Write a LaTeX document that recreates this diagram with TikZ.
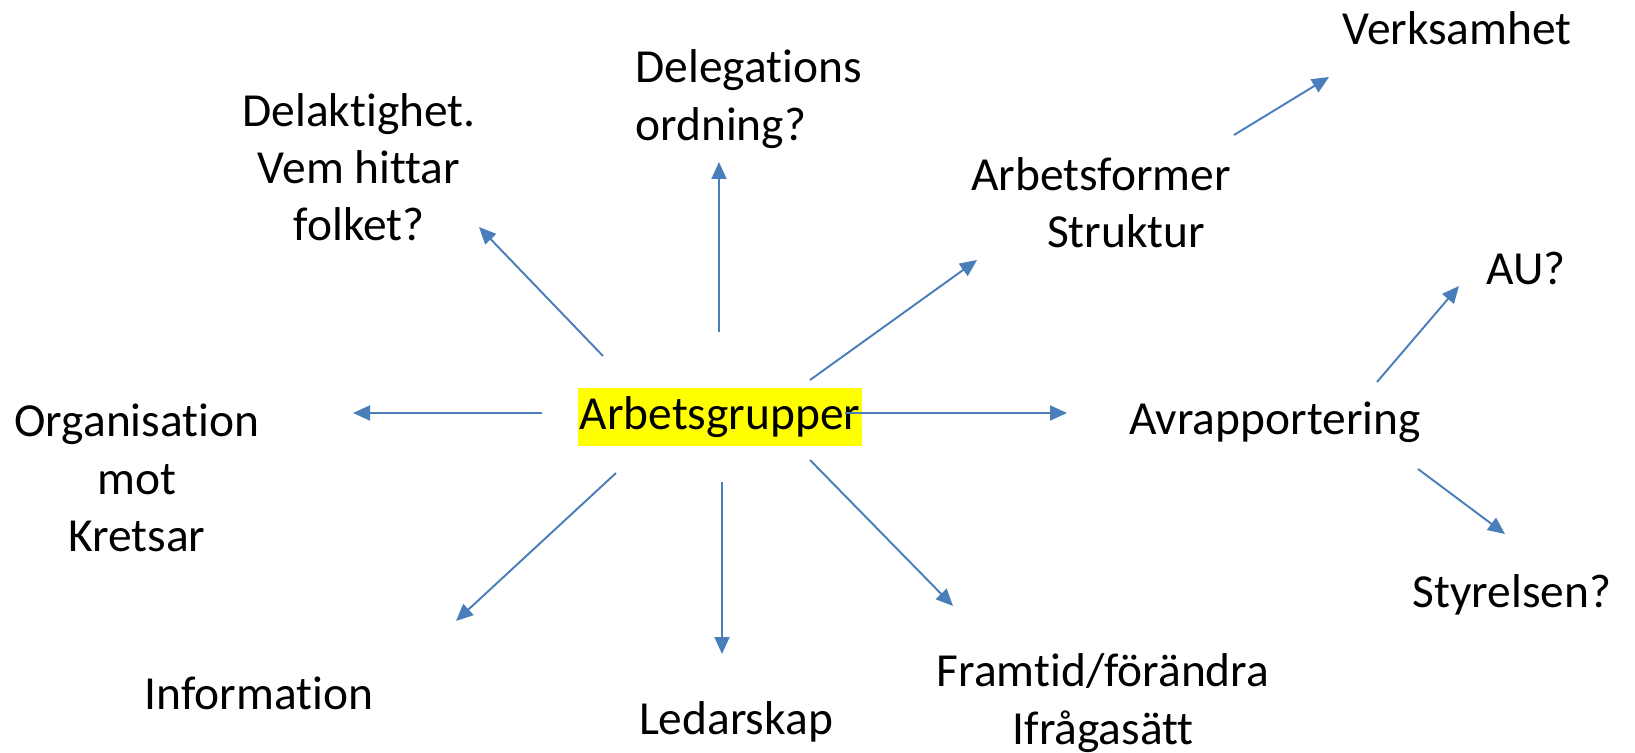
\documentclass[tikz,border=0pt]{standalone}
\usepackage{fontspec}
\setmainfont[Ligatures={NoCommon}]{Carlito}
\usetikzlibrary{arrows.meta}
\definecolor{arrowblue}{RGB}{74,126,187}
\definecolor{hilite}{RGB}{255,255,0}

\begin{document}
\begin{tikzpicture}[x=0.02cm,y=-0.02cm,>={Triangle[length=0.34cm,width=0.3cm]},
		idea/.style={inner sep=0pt, align=center, font=\fontsize{27}{32.6}\selectfont},
		hub/.style={idea, fill=hilite, minimum width=5.7cm, minimum height=1.16cm},
		link/.style={->, draw=arrowblue, line width=1.1pt}]
	\useasboundingbox (0,0) rectangle (1635,753);

	\node[hub]  (Arbetsgrupper) at (720,417)  {Arbetsgrupper};
	\node[idea] (Delaktighet)   at (359,167)  {Delaktighet.\\Vem hittar\\folket?};
	\node[idea, align=left, anchor=west] (Delegation) at (635,99) {Delegations\\ordning?};
	\node[idea] (Arbetsformer)  at (1101,203) {Arbetsformer\\\hspace*{1cm}Struktur};
	\node[idea] (Verksamhet)    at (1457,28)  {Verksamhet};
	\node[idea] (Organisation)  at (137,478)  {Organisation\\mot\\Kretsar};
	\node[idea] (Avrapport)     at (1275,422) {Avrapportering};
	\node[idea] (AU)            at (1526,268) {AU?};
	\node[idea] (Styrelsen)     at (1512,595) {Styrelsen?};
	\node[idea] (Information)   at (259,693)  {Information};
	\node[idea] (Ledarskap)     at (736,722)  {Ledarskap};
	\node[idea] (Framtid)       at (1103,703) {Framtid/förändra\\Ifrågasätt};

	% spokes out of the hub
	\draw[link] ([shift={(-117,-61)}]Arbetsgrupper.center) -- ([shift={(120,60)}]Delaktighet.center);
	\draw[link] ([shift={(-1,-85)}]Arbetsgrupper.center)  -- ([shift={(84,63)}]Delegation.west);
	\draw[link] ([shift={(90,-37)}]Arbetsgrupper.center)   -- ([shift={(-124,57)}]Arbetsformer.center);
	\draw[link] ([shift={(-178,-4)}]Arbetsgrupper.center)  -- ([shift={(216,-65)}]Organisation.center);
	\draw[link] ([shift={(125,-4)}]Arbetsgrupper.center)   -- ([shift={(-208,-9)}]Avrapport.center);
	\draw[link] ([shift={(-104,56)}]Arbetsgrupper.center)  -- ([shift={(197,-72)}]Information.center);
	\draw[link] ([shift={(2,65)}]Arbetsgrupper.center)     -- ([shift={(-14,-68)}]Ledarskap.center);
	\draw[link] ([shift={(90,43)}]Arbetsgrupper.center)    -- ([shift={(-150,-97)}]Framtid.center);

	% second level
	\draw[link] ([shift={(133,-68)}]Arbetsformer.center)   -- ([shift={(-128,49)}]Verksamhet.center);
	\draw[link] ([shift={(102,-40)}]Avrapport.center)      -- ([shift={(-67,18)}]AU.center);
	\draw[link] ([shift={(143,47)}]Avrapport.center)       -- ([shift={(-7,-61)}]Styrelsen.center);
\end{tikzpicture}
\end{document}
